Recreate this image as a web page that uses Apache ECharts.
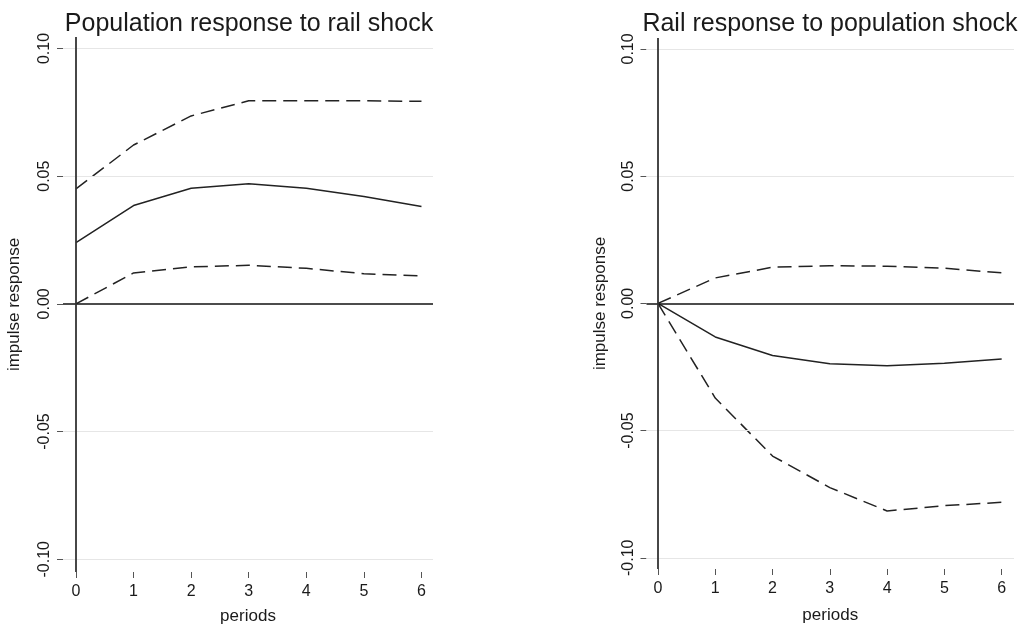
<!DOCTYPE html>
<html>
<head>
<meta charset="utf-8">
<script src="https://cdn.jsdelivr.net/npm/echarts@6/dist/echarts.min.js"></script>
<style>
  html, body { margin: 0; padding: 0; background: #fff; }
  #chart { width: 1021px; height: 630px; }
</style>
</head>
<body>
<div id="chart"></div>
<script>
const periods = [0, 1, 2, 3, 4, 5, 6];
const xTicks = [0, 1, 2, 3, 4, 5, 6];
const yTicks = [-0.1, -0.05, 0, 0.05, 0.1];
const gridLevels = [-0.1, -0.05, 0.05, 0.1];

// population response to rail shock
const popIrf = [0.024, 0.0385, 0.0453, 0.047, 0.0453, 0.042, 0.0381];
const popUpper = [0.045, 0.0622, 0.0736, 0.0795, 0.0795, 0.0795, 0.0793];
const popLower = [0.0, 0.0121, 0.0145, 0.0151, 0.0139, 0.0118, 0.011];

// rail response to population shock
const railIrf = [0.0, -0.0132, -0.0205, -0.0237, -0.0245, -0.0235, -0.0219];
const railUpper = [0.0, 0.01, 0.0142, 0.0148, 0.0146, 0.0138, 0.012];
const railLower = [0.0, -0.0372, -0.06, -0.0724, -0.0816, -0.0795, -0.0782];

const textColor = '#1a1a1a';
const font = 'Liberation Sans, Arial, sans-serif';

function pairs(ys) {
  return periods.map((p, i) => [p, ys[i]]);
}

function xAxis(idx, min, max, gap) {
  return {
    type: 'value',
    gridIndex: idx,
    min: min,
    max: max,
    name: 'periods',
    nameLocation: 'middle',
    nameGap: gap,
    nameTextStyle: { color: textColor, fontSize: 17, fontFamily: font },
    axisLine: { show: false, onZero: false },
    axisTick: { show: true, length: 6, customValues: xTicks, lineStyle: { color: '#555', width: 1 } },
    axisLabel: { customValues: xTicks, margin: 12, color: textColor, fontSize: 16, fontFamily: font },
    splitLine: { show: false }
  };
}

function yAxis(idx, min, max, gap) {
  return {
    type: 'value',
    gridIndex: idx,
    min: min,
    max: max,
    name: 'impulse response',
    nameLocation: 'middle',
    nameRotate: 90,
    nameGap: gap,
    nameTextStyle: { color: textColor, fontSize: 17, fontFamily: font },
    axisLine: { show: false, onZero: false },
    axisTick: { show: true, length: 6, customValues: yTicks, lineStyle: { color: '#555', width: 1 } },
    axisLabel: {
      customValues: yTicks,
      rotate: 90,
      margin: 10,
      color: textColor,
      fontSize: 16,
      fontFamily: font,
      formatter: (v) => v.toFixed(2)
    },
    splitLine: { show: false }
  };
}

function refLines(idx) {
  return {
    type: 'line',
    xAxisIndex: idx,
    yAxisIndex: idx,
    data: [],
    silent: true,
    markLine: {
      symbol: 'none',
      silent: true,
      label: { show: false },
      animation: false,
      data: gridLevels.map((v) => ({ yAxis: v, lineStyle: { color: '#e6e6e6', width: 1, type: 'solid' } }))
        .concat([
          { yAxis: 0, lineStyle: { color: '#111', width: 1.5, type: 'solid' } },
          { xAxis: 0, lineStyle: { color: '#333', width: 1.8, type: 'solid' } }
        ])
    }
  };
}

function line(idx, ys, dashed) {
  return {
    type: 'line',
    xAxisIndex: idx,
    yAxisIndex: idx,
    data: pairs(ys),
    symbol: 'none',
    lineStyle: { color: '#222', width: 1.5, type: dashed ? [14, 7] : 'solid' },
    z: 3
  };
}

const chart = echarts.init(document.getElementById('chart'), null, { renderer: 'canvas' });

chart.setOption({
  backgroundColor: '#fff',
  animation: false,
  title: [
    {
      text: 'Population response to rail shock',
      left: 244,
      top: 7,
      textAlign: 'center',
      textStyle: { color: textColor, fontSize: 25, fontWeight: 'normal', fontFamily: font }
    },
    {
      text: 'Rail response to population shock',
      left: 825,
      top: 7,
      textAlign: 'center',
      textStyle: { color: textColor, fontSize: 25, fontWeight: 'normal', fontFamily: font }
    }
  ],
  grid: [
    { left: 63, top: 37, width: 370, height: 536 },
    { left: 646.5, top: 38, width: 367.5, height: 531 }
  ],
  xAxis: [xAxis(0, -0.225, 6.2, 36), xAxis(1, -0.2, 6.215, 38)],
  yAxis: [yAxis(0, -0.105, 0.1045, 40), yAxis(1, -0.1044, 0.1043, 38)],
  series: [
    refLines(0),
    line(0, popUpper, true),
    line(0, popIrf, false),
    line(0, popLower, true),
    refLines(1),
    line(1, railUpper, true),
    line(1, railIrf, false),
    line(1, railLower, true)
  ]
});
</script>
</body>
</html>
